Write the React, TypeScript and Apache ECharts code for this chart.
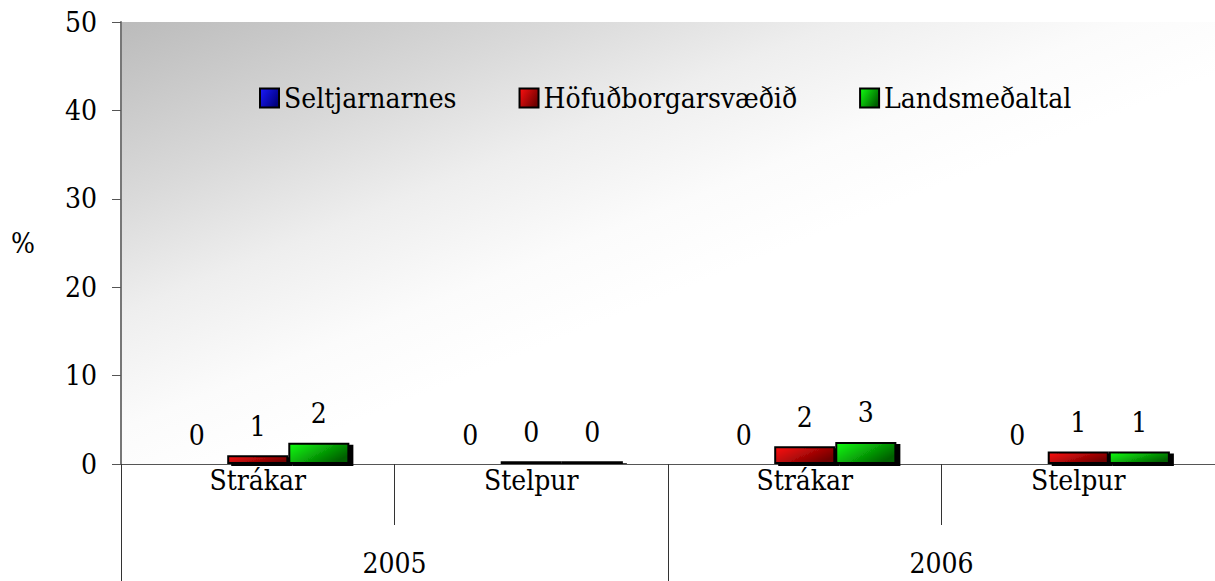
import React, { useEffect, useRef } from "react";
import * as echarts from "echarts";

const subCategories = ["Strákar", "Stelpur", "Strákar", "Stelpur"];
const years = ["2005", "2006"];
const seriesNames = ["Seltjarnarnes", "Höfuðborgarsvæðið", "Landsmeðaltal"];
const seltjarnarnes = [0, 0, 0, 0];
const hofudborgarsvaedid = [1.0, 0.3, 2.0, 1.4];
const landsmedaltal = [2.4, 0.3, 2.5, 1.4];
const yTicks = [0, 10, 20, 30, 40, 50];

const FONT = "'DejaVu Serif Condensed', 'DejaVu Serif', serif";
const FS = 28;

const grad = (a: string, b: string) =>
  new echarts.graphic.LinearGradient(0, 0, 1, 0.6, [
    { offset: 0, color: a },
    { offset: 1, color: b },
  ]);

export default function App() {
  const ref = useRef<HTMLDivElement>(null);
  useEffect(() => {
    const chart = echarts.init(ref.current!, null, { renderer: "svg" });
    const colors = [
      ["#1a1aff", "#000080"],
      ["#ff1010", "#700000"],
      ["#10ff10", "#006000"],
    ];
    const values = [seltjarnarnes, hofudborgarsvaedid, landsmedaltal];
    const series = seriesNames.map((name, i) => ({
      name,
      type: "bar",
      xAxisIndex: 0,
      barGap: "0%",
      barCategoryGap: "33%",
      itemStyle: {
        color: grad(colors[i][0], colors[i][1]),
        borderColor: "#000",
        borderWidth: 2,
        shadowColor: "#000",
        shadowOffsetX: 4,
        shadowOffsetY: 2,
        shadowBlur: 0,
      },
      label: {
        show: true,
        position: "top",
        distance: 15,
        fontFamily: FONT,
        fontSize: FS,
        color: "#000",
        formatter: (p: any) => String(Math.round(p.value)),
      },
      data: values[i].map((v) =>
        v === 0
          ? { value: v, itemStyle: { borderWidth: 0, shadowColor: "transparent" } }
          : v
      ),
    }));
    chart.setOption({
      animation: false,
      legend: {
        data: seriesNames.map((n) => ({ name: n })),
        left: 254,
        top: 79,
        icon: "rect",
        itemWidth: 19,
        itemHeight: 19,
        itemGap: 62,
        textStyle: { fontFamily: FONT, fontSize: FS, color: "#000" },
      },
      grid: {
        left: 121,
        top: 22,
        right: 0,
        bottom: 117,
        show: true,
        borderWidth: 0,
        backgroundColor: new echarts.graphic.LinearGradient(0, 0, 1, 1, [
          { offset: 0, color: "#bbbbbb" },
          { offset: 0.2, color: "#d9d9d9" },
          { offset: 0.33, color: "#eeeeee" },
          { offset: 0.46, color: "#fbfbfb" },
          { offset: 0.56, color: "#ffffff" },
          { offset: 1, color: "#ffffff" },
        ]),
      },
      graphic: [
        {
          type: "text",
          left: 11,
          top: 229,
          style: { text: "%", fontFamily: FONT, fontSize: FS, fill: "#000" },
        },
      ],
      xAxis: [
        {
          type: "category",
          data: subCategories,
          position: "bottom",
          axisLine: { lineStyle: { color: "#555", width: 1 } },
          axisTick: { show: true, length: 61, interval: 0, lineStyle: { color: "#333" } },
          axisLabel: { interval: 0, margin: 2, fontFamily: FONT, fontSize: FS, color: "#000" },
        },
        {
          type: "category",
          data: years,
          position: "bottom",
          axisLine: { show: false },
          axisTick: { show: true, length: 117, interval: 0, lineStyle: { color: "#333" } },
          axisLabel: { interval: 0, margin: 85, fontFamily: FONT, fontSize: FS, color: "#000" },
        },
      ],
      yAxis: {
        type: "value",
        min: yTicks[0],
        max: yTicks[yTicks.length - 1],
        interval: 10,
        splitLine: { show: false },
        axisLine: { show: true, lineStyle: { color: "#777", width: 2 } },
        axisTick: { show: true, inside: false, length: 9, lineStyle: { color: "#555" } },
        axisLabel: { margin: 24, fontFamily: FONT, fontSize: FS, color: "#000" },
      },
      series,
    });
    return () => chart.dispose();
  }, []);
  return (
    <div
      ref={ref}
      style={{ position: "fixed", left: 0, top: 0, width: 1215, height: 581, background: "#fff" }}
    />
  );
}
